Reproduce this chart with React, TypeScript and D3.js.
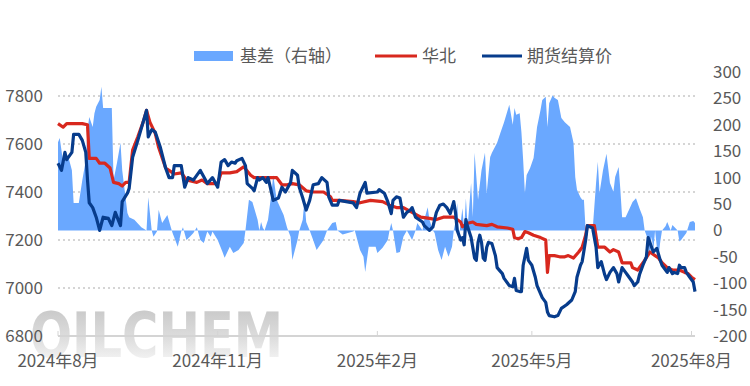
import React from 'react';
import * as d3 from 'd3';

// 基差（右轴）
const basis: [string, number][] = [
  ["2024-08-01",167],["2024-08-02",175],["2024-08-04",128],["2024-08-07",139],["2024-08-09",114],["2024-08-10",52],["2024-08-13",52],["2024-08-15",95],["2024-08-17",133],["2024-08-18",190],["2024-08-19",215],["2024-08-21",196],["2024-08-22",222],["2024-08-23",234],["2024-08-25",247],["2024-08-26",272],["2024-08-27",232],["2024-09-01",232],["2024-09-02",95],["2024-09-04",128],["2024-09-06",166],["2024-09-07",114],["2024-09-10",33],["2024-09-11",25],["2024-09-14",20],["2024-09-18",6],["2024-09-21",0],["2024-09-22",63],["2024-09-24",0],["2024-09-25",-12],["2024-09-27",-2],["2024-09-28",39],["2024-09-30",14],["2024-10-03",29],["2024-10-05",6],["2024-10-06",-5],["2024-10-09",-31],["2024-10-11",-2],["2024-10-12",6],["2024-10-14",-18],["2024-10-16",-12],["2024-10-18",-5],["2024-10-20",6],["2024-10-22",-18],["2024-10-24",-24],["2024-10-26",-2],["2024-10-28",-12],["2024-10-29",-2],["2024-11-01",-18],["2024-11-04",-43],["2024-11-05",-52],["2024-11-08",-31],["2024-11-10",-43],["2024-11-13",-37],["2024-11-16",-24],["2024-11-17",0],["2024-11-19",58],["2024-11-21",54],["2024-11-24",20],["2024-11-25",0],["2024-11-26",16],["2024-11-27",5],["2024-11-28",0],["2024-11-30",20],["2024-12-02",71],["2024-12-03",105],["2024-12-05",58],["2024-12-09",29],["2024-12-11",5],["2024-12-13",-12],["2024-12-14",-56],["2024-12-17",-18],["2024-12-18",0],["2024-12-20",20],["2024-12-21",58],["2024-12-22",16],["2024-12-24",0],["2024-12-26",-18],["2024-12-28",-37],["2025-01-01",-18],["2025-01-03",0],["2025-01-06",14],["2025-01-08",16],["2025-01-09",0],["2025-01-12",-8],["2025-01-18",-2],["2025-01-19",0],["2025-01-22",-37],["2025-01-24",-50],["2025-01-25",-79],["2025-01-27",-31],["2025-01-31",-31],["2025-02-01",-43],["2025-02-04",-33],["2025-02-07",-18],["2025-02-08",0],["2025-02-09",14],["2025-02-10",0],["2025-02-12",-43],["2025-02-14",-41],["2025-02-16",-12],["2025-02-18",0],["2025-02-20",-12],["2025-02-21",-18],["2025-02-23",0],["2025-02-24",14],["2025-02-27",0],["2025-02-28",20],["2025-03-02",44],["2025-03-03",20],["2025-03-05",0],["2025-03-06",-5],["2025-03-08",-37],["2025-03-10",-56],["2025-03-12",-31],["2025-03-14",-50],["2025-03-16",-31],["2025-03-17",0],["2025-03-18",16],["2025-03-19",52],["2025-03-20",-12],["2025-03-22",42],["2025-03-23",1],["2025-03-24",61],["2025-03-25",6],["2025-03-27",90],["2025-03-28",25],["2025-03-29",147],["2025-03-31",58],["2025-04-02",114],["2025-04-04",147],["2025-04-05",71],["2025-04-07",139],["2025-04-08",147],["2025-04-11",166],["2025-04-13",186],["2025-04-15",205],["2025-04-18",238],["2025-04-20",200],["2025-04-21",232],["2025-04-22",219],["2025-04-24",222],["2025-04-25",186],["2025-04-26",133],["2025-04-27",71],["2025-04-28",105],["2025-04-30",118],["2025-05-02",137],["2025-05-03",166],["2025-05-04",196],["2025-05-06",228],["2025-05-07",247],["2025-05-09",253],["2025-05-10",196],["2025-05-11",241],["2025-05-13",256],["2025-05-14",251],["2025-05-16",247],["2025-05-18",213],["2025-05-20",205],["2025-05-23",196],["2025-05-25",166],["2025-05-26",101],["2025-05-27",77],["2025-05-29",63],["2025-05-30",58],["2025-05-31",58],["2025-06-01",0],["2025-06-03",0],["2025-06-05",0],["2025-06-07",90],["2025-06-08",130],["2025-06-09",71],["2025-06-11",114],["2025-06-13",145],["2025-06-15",90],["2025-06-17",73],["2025-06-18",101],["2025-06-20",120],["2025-06-21",77],["2025-06-22",25],["2025-06-24",25],["2025-06-26",39],["2025-06-28",54],["2025-06-30",61],["2025-07-02",42],["2025-07-04",25],["2025-07-05",0],["2025-07-07",-18],["2025-07-08",-50],["2025-07-09",-12],["2025-07-10",-37],["2025-07-11",0],["2025-07-12",-31],["2025-07-13",-50],["2025-07-14",-21],["2025-07-15",0],["2025-07-17",8],["2025-07-18",16],["2025-07-20",0],["2025-07-21",10],["2025-07-24",0],["2025-07-25",-21],["2025-07-26",-18],["2025-07-29",-5],["2025-07-31",16],["2025-08-02",18],["2025-08-03",14]
];

// 华北
const huabei: [string, number][] = [
  ["2024-08-01",7685],["2024-08-04",7670],["2024-08-06",7685],["2024-08-15",7685],["2024-08-18",7680],["2024-08-19",7540],["2024-08-23",7540],["2024-08-25",7520],["2024-08-28",7520],["2024-08-31",7500],["2024-09-02",7440],["2024-09-05",7435],["2024-09-07",7425],["2024-09-09",7440],["2024-09-11",7440],["2024-09-13",7575],["2024-09-16",7630],["2024-09-19",7690],["2024-09-21",7740],["2024-09-23",7690],["2024-09-26",7645],["2024-09-28",7585],["2024-10-02",7500],["2024-10-05",7485],["2024-10-07",7475],["2024-10-11",7480],["2024-10-14",7450],["2024-10-20",7440],["2024-10-23",7450],["2024-10-26",7435],["2024-11-01",7435],["2024-11-03",7480],["2024-11-08",7480],["2024-11-12",7485],["2024-11-16",7505],["2024-11-20",7470],["2024-11-22",7460],["2024-11-29",7460],["2024-12-05",7460],["2024-12-08",7430],["2024-12-11",7430],["2024-12-14",7435],["2024-12-18",7430],["2024-12-22",7405],["2024-12-26",7400],["2025-01-01",7400],["2025-01-05",7380],["2025-01-06",7365],["2025-01-10",7365],["2025-01-18",7360],["2025-01-22",7355],["2025-01-28",7365],["2025-02-04",7360],["2025-02-08",7345],["2025-02-12",7335],["2025-02-16",7335],["2025-02-21",7315],["2025-02-26",7295],["2025-03-03",7290],["2025-03-07",7285],["2025-03-11",7295],["2025-03-17",7295],["2025-03-21",7275],["2025-03-22",7255],["2025-03-25",7270],["2025-03-28",7275],["2025-03-30",7265],["2025-04-05",7260],["2025-04-08",7265],["2025-04-11",7255],["2025-04-17",7250],["2025-04-20",7245],["2025-04-21",7210],["2025-04-23",7205],["2025-04-25",7210],["2025-04-27",7235],["2025-04-29",7230],["2025-05-02",7220],["2025-05-06",7210],["2025-05-09",7200],["2025-05-10",7065],["2025-05-11",7135],["2025-05-14",7135],["2025-05-17",7130],["2025-05-20",7130],["2025-05-22",7135],["2025-05-25",7125],["2025-05-28",7150],["2025-05-30",7170],["2025-06-01",7220],["2025-06-02",7260],["2025-06-06",7260],["2025-06-08",7170],["2025-06-12",7170],["2025-06-15",7150],["2025-06-17",7160],["2025-06-20",7150],["2025-06-22",7105],["2025-06-27",7105],["2025-06-28",7085],["2025-07-01",7075],["2025-07-03",7095],["2025-07-05",7115],["2025-07-08",7150],["2025-07-11",7135],["2025-07-13",7125],["2025-07-15",7105],["2025-07-18",7085],["2025-07-21",7075],["2025-07-25",7075],["2025-07-28",7065],["2025-07-30",7060],["2025-08-01",7045],["2025-08-03",7035]
];

// 期货结算价
const futures: [string, number][] = [
  ["2024-08-01",7520],["2024-08-03",7490],["2024-08-05",7565],["2024-08-06",7535],["2024-08-09",7565],["2024-08-10",7640],["2024-08-13",7640],["2024-08-15",7615],["2024-08-17",7565],["2024-08-18",7450],["2024-08-19",7355],["2024-08-21",7335],["2024-08-23",7295],["2024-08-25",7240],["2024-08-27",7295],["2024-08-30",7290],["2024-09-01",7260],["2024-09-03",7315],["2024-09-06",7260],["2024-09-07",7360],["2024-09-10",7395],["2024-09-11",7415],["2024-09-13",7545],["2024-09-16",7615],["2024-09-19",7690],["2024-09-21",7740],["2024-09-22",7630],["2024-09-24",7660],["2024-09-26",7650],["2024-09-29",7585],["2024-10-02",7500],["2024-10-04",7460],["2024-10-06",7460],["2024-10-07",7510],["2024-10-11",7510],["2024-10-13",7420],["2024-10-15",7460],["2024-10-18",7450],["2024-10-19",7460],["2024-10-22",7490],["2024-10-25",7450],["2024-10-26",7435],["2024-10-29",7460],["2024-11-01",7420],["2024-11-03",7525],["2024-11-05",7535],["2024-11-07",7510],["2024-11-09",7525],["2024-11-11",7520],["2024-11-12",7530],["2024-11-15",7540],["2024-11-17",7510],["2024-11-18",7435],["2024-11-21",7415],["2024-11-22",7405],["2024-11-24",7460],["2024-11-25",7450],["2024-11-27",7460],["2024-11-29",7440],["2024-11-30",7460],["2024-12-01",7430],["2024-12-03",7365],["2024-12-06",7375],["2024-12-08",7420],["2024-12-10",7400],["2024-12-13",7440],["2024-12-14",7490],["2024-12-17",7470],["2024-12-18",7420],["2024-12-20",7375],["2024-12-22",7325],["2024-12-24",7365],["2024-12-26",7430],["2024-12-29",7435],["2024-12-31",7460],["2025-01-03",7440],["2025-01-04",7380],["2025-01-06",7345],["2025-01-09",7345],["2025-01-10",7365],["2025-01-18",7355],["2025-01-20",7335],["2025-01-22",7395],["2025-01-25",7440],["2025-01-26",7395],["2025-02-01",7400],["2025-02-02",7410],["2025-02-05",7395],["2025-02-07",7360],["2025-02-09",7310],["2025-02-10",7365],["2025-02-12",7380],["2025-02-14",7375],["2025-02-16",7295],["2025-02-18",7315],["2025-02-20",7325],["2025-02-21",7335],["2025-02-23",7295],["2025-02-24",7290],["2025-02-27",7275],["2025-02-28",7260],["2025-03-03",7240],["2025-03-05",7255],["2025-03-07",7315],["2025-03-09",7345],["2025-03-11",7350],["2025-03-13",7335],["2025-03-15",7310],["2025-03-17",7360],["2025-03-18",7315],["2025-03-19",7240],["2025-03-21",7200],["2025-03-22",7210],["2025-03-23",7180],["2025-03-24",7285],["2025-03-25",7255],["2025-03-27",7210],["2025-03-29",7125],["2025-03-30",7115],["2025-03-31",7190],["2025-04-01",7220],["2025-04-02",7190],["2025-04-03",7125],["2025-04-04",7115],["2025-04-05",7170],["2025-04-06",7190],["2025-04-08",7185],["2025-04-10",7135],["2025-04-11",7085],["2025-04-14",7060],["2025-04-15",7040],["2025-04-18",7010],["2025-04-20",7005],["2025-04-21",7040],["2025-04-22",6990],["2025-04-24",6985],["2025-04-25",6985],["2025-04-26",7095],["2025-04-28",7165],["2025-04-29",7115],["2025-05-01",7095],["2025-05-03",7045],["2025-05-04",7010],["2025-05-07",6960],["2025-05-09",6940],["2025-05-10",6900],["2025-05-11",6885],["2025-05-14",6880],["2025-05-16",6885],["2025-05-18",6915],["2025-05-21",6930],["2025-05-24",6950],["2025-05-26",6985],["2025-05-27",7045],["2025-05-29",7095],["2025-05-30",7110],["2025-06-01",7200],["2025-06-02",7260],["2025-06-05",7250],["2025-06-07",7170],["2025-06-08",7085],["2025-06-10",7110],["2025-06-12",7055],["2025-06-13",7035],["2025-06-15",7065],["2025-06-17",7085],["2025-06-19",7060],["2025-06-20",7025],["2025-06-22",7085],["2025-06-24",7065],["2025-06-25",7055],["2025-06-28",7025],["2025-06-29",7010],["2025-07-01",7025],["2025-07-02",7055],["2025-07-04",7095],["2025-07-06",7130],["2025-07-07",7210],["2025-07-09",7170],["2025-07-10",7150],["2025-07-12",7165],["2025-07-14",7115],["2025-07-15",7095],["2025-07-18",7065],["2025-07-19",7085],["2025-07-21",7060],["2025-07-22",7065],["2025-07-24",7060],["2025-07-25",7095],["2025-07-26",7085],["2025-07-28",7085],["2025-07-29",7065],["2025-07-31",7045],["2025-08-02",7025],["2025-08-03",6985]
];

const leftTicks = [6800, 7000, 7200, 7400, 7600, 7800];
const rightTicks = [-200, -150, -100, -50, 0, 50, 100, 150, 200, 250, 300];
const xTicks = ["2024-08-01", "2024-11-01", "2025-02-01", "2025-05-01", "2025-08-01"];
const xTickLabels = ["2024年8月", "2024年11月", "2025年2月", "2025年5月", "2025年8月"];

const W = 750;
const H = 386;
const FONT = "'Noto Sans CJK SC', 'Noto Sans', sans-serif";
const TEXT = "#595959";
const AREA = "#6aa8ff";
const RED = "#d8281e";
const NAVY = "#073c8c";

const parse = d3.timeParse("%Y-%m-%d");

export default function App() {
  const x = d3.scaleTime()
    .domain([parse("2024-08-01")!, parse("2025-08-03")!])
    .range([58, 695]);
  const yL = d3.scaleLinear().domain([6800, 7900]).range([336, 72]);
  const yR = d3.scaleLinear().domain([-200, 300]).range([336, 72]);

  const area = d3.area<[string, number]>()
    .x(d => x(parse(d[0])!))
    .y0(yR(0))
    .y1(d => yR(d[1]));

  const line = d3.line<[string, number]>()
    .x(d => x(parse(d[0])!))
    .y(d => yL(d[1]));

  const [x0, x1] = x.range();

  return (
    <svg width={W} height={H} style={{ position: 'absolute', left: 0, top: 0, background: '#fff' }}>
      <defs>
        <linearGradient id="wm" x1="0" y1="0" x2="0" y2="1">
          <stop offset="0%" stopColor="#c2c2c2" />
          <stop offset="55%" stopColor="#dedede" />
          <stop offset="100%" stopColor="#ffffff" />
        </linearGradient>
      </defs>

      {/* watermark */}
      <text x={30} y={357} fontFamily="'DejaVu Sans', sans-serif" fontWeight="bold" fontSize={62}
        textLength={253} lengthAdjust="spacingAndGlyphs" fill="url(#wm)">OILCHEM</text>

      {/* grid */}
      {leftTicks.filter(t => t !== 6800).map(t => (
        <line key={t} x1={x0} x2={x1} y1={yL(t)} y2={yL(t)}
          stroke="#c8c8c8" strokeWidth={1.5} strokeDasharray="2,3" />
      ))}

      {/* basis area */}
      <path d={area(basis) || ''} fill={AREA} />

      {/* x axis */}
      <line x1={x0} x2={x1} y1={336} y2={336} stroke="#d4d4d4" strokeWidth={2} />
      {xTicks.map(t => (
        <line key={t} x1={x(parse(t)!)} x2={x(parse(t)!)} y1={331} y2={336} stroke="#d4d4d4" strokeWidth={1} />
      ))}

      {/* lines */}
      <path d={line(huabei) || ''} fill="none" stroke={RED} strokeWidth={3.2} strokeLinejoin="round" />
      <path d={line(futures) || ''} fill="none" stroke={NAVY} strokeWidth={3.2} strokeLinejoin="round" />

      {/* left axis labels */}
      {leftTicks.map(t => (
        <text key={t} x={43} y={yL(t)} dy="0.35em" textAnchor="end" fontFamily={FONT} fontSize={17} fill={TEXT}>{t}</text>
      ))}

      {/* right axis labels */}
      {rightTicks.map(t => (
        <text key={t} x={713} y={yR(t)} dy="0.35em" textAnchor="start" fontFamily={FONT} fontSize={17} fill={TEXT}>{t}</text>
      ))}

      {/* x labels */}
      {xTicks.map((t, i) => (
        <text key={t} x={x(parse(t)!)} y={367} textAnchor="middle" fontFamily={FONT} fontSize={17} fill={TEXT}>{xTickLabels[i]}</text>
      ))}

      {/* legend */}
      <rect x={194} y={51} width={39} height={10} fill={AREA} />
      <text x={240} y={56} dy="0.35em" fontFamily={FONT} fontSize={17} fill={TEXT}>基差（右轴）</text>
      <line x1={375} x2={417} y1={56} y2={56} stroke={RED} strokeWidth={3} />
      <text x={422} y={56} dy="0.35em" fontFamily={FONT} fontSize={17} fill={TEXT}>华北</text>
      <line x1={482} x2={522} y1={56} y2={56} stroke={NAVY} strokeWidth={3} />
      <text x={527} y={56} dy="0.35em" fontFamily={FONT} fontSize={17} fill={TEXT}>期货结算价</text>
    </svg>
  );
}
